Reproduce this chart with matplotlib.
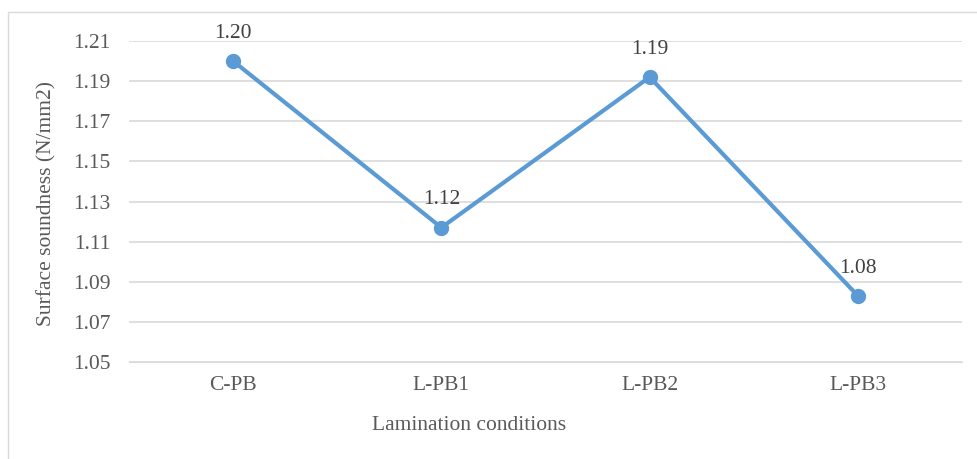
import matplotlib.pyplot as plt
from matplotlib.patches import Rectangle

categories = ['C-PB', 'L-PB1', 'L-PB2', 'L-PB3']
values = [1.200, 1.117, 1.192, 1.083]
labels = ['1.20', '1.12', '1.19', '1.08']
yticks = [1.05, 1.07, 1.09, 1.11, 1.13, 1.15, 1.17, 1.19, 1.21]

plt.rcParams['font.family'] = ['Liberation Serif', 'DejaVu Serif']
gris = '#595959'
fs = 15.5

fig = plt.figure(figsize=(9.77, 4.59), dpi=100)
# borde del area del grafico
fig.patches.append(Rectangle((8/977, -0.1), 1.0, 1 - 12/459 + 0.1, transform=fig.transFigure,
                             fill=False, edgecolor='#d9d9d9', linewidth=1))

ax = fig.add_axes([129/977, 1 - 362/459, (962 - 129)/977, (362 - 41)/459])
x = range(len(categories))
ax.plot(x, values, color='#5B9BD5', linewidth=3, marker='o', markersize=10, zorder=3)

for xi, v, t in zip(x, values, labels):
    ax.annotate(t, (xi, v), xytext=(0, 20), textcoords='offset points',
                ha='center', va='center', fontsize=fs, color='#404040')

ax.set_xlim(-0.5, 3.5)
ax.set_ylim(1.05, 1.21)
ax.set_yticks(yticks)
ax.set_yticklabels(['%.2f' % t for t in yticks])
ax.set_xticks(list(x))
ax.set_xticklabels(categories)
ax.tick_params(length=0, labelsize=fs, colors=gris)
ax.tick_params(axis='y', pad=13.5)
ax.tick_params(axis='x', pad=10)
ax.grid(axis='y', color='#d9d9d9', linewidth=1.2)
ax.set_axisbelow(True)
for s in ax.spines.values():
    s.set_visible(False)
ax.spines['bottom'].set_visible(True)
ax.spines['bottom'].set_color('#d9d9d9')

fig.text(469/977, 1 - 425/459, 'Lamination conditions', ha='center', va='center',
         fontsize=fs, color=gris)
fig.text(47/977, 1 - 203/459, 'Surface soundness (N/mm2)', ha='center', va='center',
         rotation=90, fontsize=fs, color=gris)

fig.savefig('out.png', dpi=100)
